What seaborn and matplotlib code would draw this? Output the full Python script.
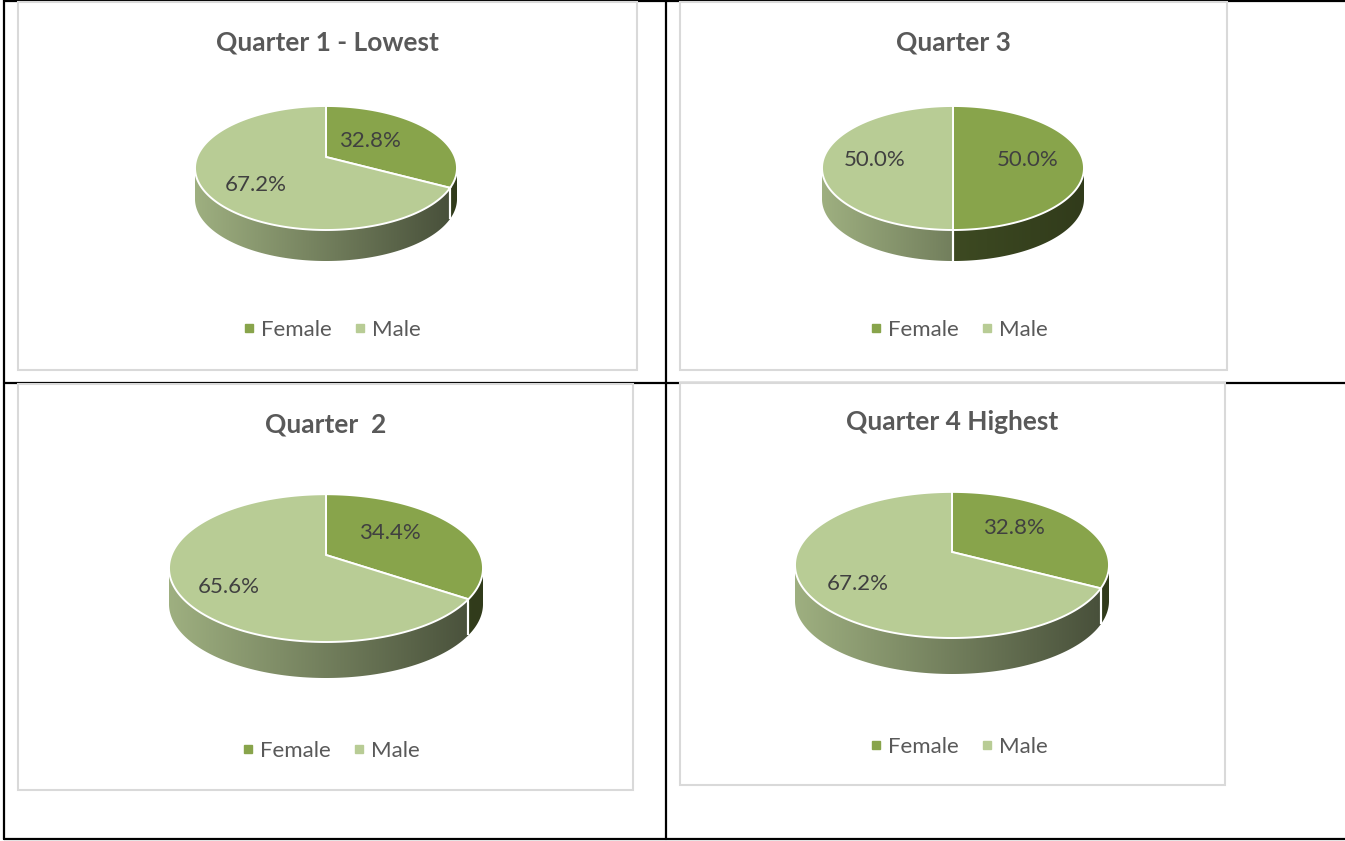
import numpy as np
import matplotlib
matplotlib.use("Agg")
import matplotlib.pyplot as plt
import seaborn as sns
from matplotlib.patches import Rectangle, Polygon
from matplotlib.lines import Line2D
from matplotlib.colors import to_rgb

# ---------------- data ----------------
titles = ["Quarter 1 - Lowest", "Quarter 3", "Quarter  2", "Quarter 4 Highest"]
categories = ["Female", "Male"]
female_pct = [32.8, 50.0, 34.4, 32.8]
male_pct = [67.2, 50.0, 65.6, 67.2]

# ---------------- style ----------------
sns.set_theme(style="white")
plt.rcParams["font.family"] = ["Lato", "DejaVu Sans"]
palette = sns.color_palette(["#88A44B", "#B8CC95"])
TITLE_C = "#595959"
LABEL_C = "#404040"

W, H = 1345, 841
fig = plt.figure(figsize=(W / 100, H / 100), dpi=100)
fig.patch.set_facecolor("white")

def fx(x):
    return x / W

def fy(y):
    return 1 - y / H

# table lines
for (x0, y0, x1, y1) in [(4, 1, 1345, 1), (4, 0, 4, 839), (666, 0, 666, 839),
                         (4, 382.5, 1345, 382.5), (4, 838.5, 1345, 838.5)]:
    fig.add_artist(Line2D([fx(x0), fx(x1)], [fy(y0), fy(y1)], color="black",
                          lw=1.6, transform=fig.transFigure, zorder=1))

# layout: panel box (L,T,R,B); pie vertex (cx,cy), half-width, front extent, depth
panels = [(18, 2, 637, 370), (680, 2, 1227, 370), (18, 384, 633, 790), (680, 383, 1225, 785)]
pies = [(326, 157, 131, 73, 31), (953, 157, 131, 73, 31),
        (326, 555, 157, 87, 36), (952, 552, 157, 86, 36)]
title_pos = [(327, 42), (953, 42), (326, 424), (952, 422)]
legend_pos = [(329.5, 330), (956.5, 330), (328.5, 751), (956.5, 747)]
# label offsets (pixels from pie vertex, x right / y up) for [female, male]
label_off = [[(44, 16), (-70, -28)], [(75, -3), (-78, -3)],
             [(64, 22), (-97, -32)], [(62, 24), (-94, -32)]]

PERSP = 5.64  # perspective distance (pie radii)
phi_edge = np.degrees(np.arcsin(-1.0 / PERSP))          # ~ -10.2 deg
edge_f = np.cos(np.radians(phi_edge)) / (PERSP - 1.0 / PERSP)

def make_proj(half_w, front):
    A = half_w / edge_f
    B = front * (PERSP - 1)
    def proj(phi_deg):
        t = np.radians(phi_deg)
        u, v = np.cos(t), np.sin(t)
        return A * u / (PERSP + v), B * v / (PERSP + v)
    return proj

def shade_factor(x, kind):
    if kind == 0:  # female wall (darker)
        return 0.45 - 0.09 * x
    return 0.62 - 0.24 * x

for i in range(4):
    L, T, R, B = panels[i]
    fig.add_artist(Rectangle((fx(L), fy(B)), fx(R - L), (B - T) / H,
                             transform=fig.transFigure, facecolor="white",
                             edgecolor="#D9D9D9", lw=1.5, zorder=2))
    cx, cy, hw, front, dep = pies[i]
    proj = make_proj(hw, front)
    pad = 25
    aL, aR = cx - hw - pad, cx + hw + pad
    aT, aB = cy - front - pad, cy + front + dep + pad
    ax = fig.add_axes([fx(aL), fy(aB), (aR - aL) / W, (aB - aT) / H], zorder=3)
    ax.patch.set_alpha(0)
    vals = [female_pct[i], male_pct[i]]

    wedges, _, autotexts = ax.pie(vals, colors=palette, startangle=90, counterclock=False,
                                  autopct="%.1f%%",
                                  textprops=dict(color=LABEL_C, fontsize=16, zorder=4))
    # re-project each wedge of the pie onto the tilted, perspective 3D top face
    vis_lo, vis_hi = 180 - phi_edge - 360, phi_edge   # visible front arc
    xs_img = np.linspace(-hw, hw, 256)
    for k, w in enumerate(wedges):
        t1, t2 = sorted((w.theta1, w.theta2))
        w.set_visible(False)
        ph = np.linspace(t1, t2, 200)
        X, Y = proj(ph)
        top = Polygon(np.column_stack([np.r_[0, X], np.r_[0, Y]]), closed=True,
                      facecolor=palette[k], edgecolor="white", lw=1.4, zorder=2)
        ax.add_patch(top)
        # side wall
        for m in (-1, 0, 1):
            a = max(t1, vis_lo + 360 * m)
            b = min(t2, vis_hi + 360 * m)
            if b - a > 0.01:
                ph = np.linspace(a, b, 150)
                Xs, Ys = proj(ph)
                pts = np.vstack([np.column_stack([Xs, Ys]),
                                 np.column_stack([Xs, Ys - dep])[::-1]])
                poly = Polygon(pts, closed=True, facecolor="none", edgecolor="none")
                ax.add_patch(poly)
                base = np.array(to_rgb(palette[k]))
                img = np.clip(np.outer(shade_factor(xs_img / hw, k), base), 0, 1)[None, :, :]
                im = ax.imshow(img, extent=(-hw, hw, -front - dep - 2, 5), aspect="auto",
                               interpolation="bilinear", zorder=1)
                im.set_clip_path(poly)
        # separator on wall at slice boundaries
        for ang in (w.theta1, w.theta2):
            a = (ang + 180) % 360 - 180
            if vis_lo < a < vis_hi:
                X0, Y0 = proj(a)
                ax.plot([X0, X0], [Y0, Y0 - dep], color="white", lw=1.5, zorder=1.5,
                        solid_capstyle="butt")
    for t, (lx, ly) in zip(autotexts, label_off[i]):
        t.set_position((lx, ly))
        t.set_ha("center")
        t.set_va("center")
    ax.set_aspect("auto")
    ax.set_xlim(aL - cx, aR - cx)
    ax.set_ylim(cy - aB, cy - aT)
    ax.axis("off")

    # title
    tx, ty = title_pos[i]
    fig.text(fx(tx), fy(ty), titles[i], ha="center", va="center", fontsize=19,
             fontweight="bold", color=TITLE_C, zorder=5)
    # legend
    handles = [Line2D([], [], marker="s", linestyle="none", markersize=5.5,
                      markerfacecolor=palette[k], markeredgecolor=palette[k])
               for k in range(2)]
    lx, ly = legend_pos[i]
    leg = fig.legend(handles, categories, loc="center", bbox_to_anchor=(fx(lx), fy(ly)),
                     ncol=2, frameon=False, fontsize=16, handletextpad=0.05,
                     columnspacing=0.75, handlelength=1.0, labelcolor=TITLE_C)
    leg.set_zorder(5)

fig.savefig("out.png", dpi=100, facecolor="white")
